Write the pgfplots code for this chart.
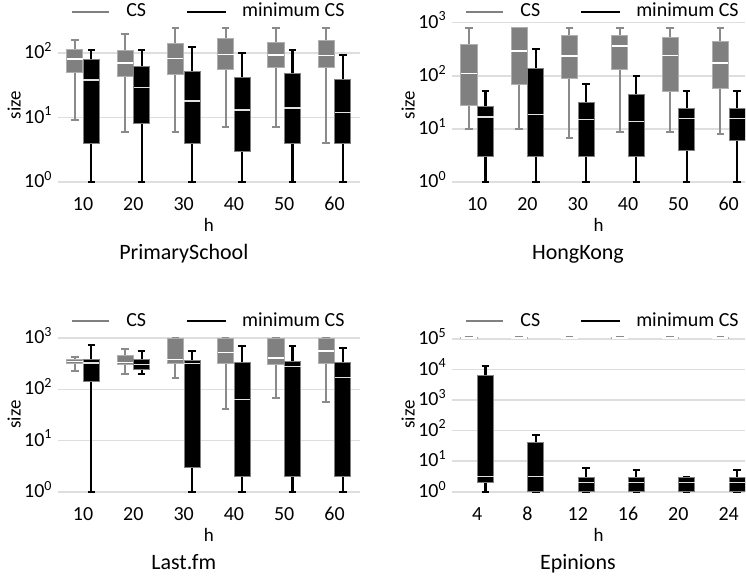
\documentclass[border=0pt]{standalone}
\usepackage{fontspec}
\setmainfont{Carlito}
\usepackage{pgfplots}
\usepackage{pgfplotstable}
\pgfplotsset{compat=1.18}

\definecolor{csgray}{RGB}{128,128,128}
\definecolor{wgray}{RGB}{138,138,138}
\definecolor{edgegray}{RGB}{175,175,175}
\definecolor{gridgray}{RGB}{222,222,222}
\definecolor{medgray}{RGB}{225,225,225}

% PrimarySchool
\pgfplotstableread{
lw lq med uq uw
9.2 50 81 115 157
6 44 70 109 193
6 47 82 141 245
7.1 55 94 169 245
7.1 59 93 148 245
4 59 91 156 245
}\PScs
\pgfplotstableread{
lw lq med uq uw
1 4 38 79 111
1 8 29 61 111
1 4 18 51 124
1 3 13 42 100
1 4 14 48 111
1 4 12 39 93
}\PSmin
% HongKong
\pgfplotstableread{
lw lq med uq uw
10 27.6 111 389 805
10 68 295 805 805
6.9 91 237 585 805
8.9 131 362 585 805
8.9 51.5 240 520 805
8 57 175 450 805
}\HKcs
\pgfplotstableread{
lw lq med uq uw
1 3 16.8 26 52
1 3 18.9 137 318
1 3 15 31 71
1 3 13.9 44 99
1 4 15.9 24 51
1 6 15.9 24 51
}\HKmin
% Last.fm
\pgfplotstableread{
lw lq med uq uw
231 321 351 384 433
202 302 336 460 620
169 326 384 1000 1000
42 316 518 1000 1000
69 307 408 1000 1000
56 316 558 1000 1000
}\LFcs
\pgfplotstableread{
lw lq med uq uw
1 141 326 378 720
202 245 307 378 567
1 3 316 373 550
1 2 63 331 709
1 2 281 346 709
1 2 169 331 629
}\LFmin
% Epinions
\pgfplotstableread{
lw lq med uq uw
103000 103000 108000 113000 113000
103000 103000 108000 113000 113000
103000 103000 108000 113000 113000
103000 103000 108000 113000 113000
103000 103000 108000 113000 113000
103000 103000 108000 113000 113000
}\EPcs
\pgfplotstableread{
lw lq med uq uw
1 2 3.1 6420 13300
1 1 3.1 42 74
1 1 2 3 6
1 1 2 3 5
1 1 2 3 3
1 1 2 3 5
}\EPmin

\pgfplotsset{
  mypanel/.style={
    scale only axis, height=85pt,
    xmin=-0.5,
    axis line style={draw=none}, tick style={draw=none},
    ymajorgrids, grid style={gridgray, line width=0.75pt},
    xtick={0,1,2,3,4,5},
    tick label style={font=\fontsize{10}{12}\selectfont},
    yticklabel style={anchor=base east, inner sep=0pt, xshift=-2.5pt, yshift=-2.8pt},
    xticklabel style={anchor=base, inner sep=0pt, yshift=-10.3pt},
    xlabel={h}, ylabel={size},
    xlabel style={font=\fontsize{9.5}{11}\selectfont, at={(axis description cs:0.5,0)}, anchor=base, yshift=-20.8pt, inner sep=0pt},
    ylabel style={font=\fontsize{9.5}{11}\selectfont, at={(axis description cs:0,0.5)}, anchor=base, yshift=18.7pt, inner sep=0pt},
  },
  cswhisk/.style={draw=wgray, line width=1pt},
  csbox/.style={fill=csgray, draw=edgegray, line width=0.4pt},
  csmed/.style={draw=white, line width=0.7pt},
  minwhisk/.style={draw=black, line width=1.1pt},
  minbox/.style={fill=black, draw=csgray, line width=0.4pt},
  minmed/.style={draw=medgray, line width=0.7pt},
}

% #1 table, #2 row, #3 draw position, #4 style prefix (cs / min)
\newcommand{\onebox}[4]{%
  \pgfplotstablegetelem{#2}{lw}\of#1\let\vlw\pgfplotsretval
  \pgfplotstablegetelem{#2}{lq}\of#1\let\vlq\pgfplotsretval
  \pgfplotstablegetelem{#2}{med}\of#1\let\vmed\pgfplotsretval
  \pgfplotstablegetelem{#2}{uq}\of#1\let\vuq\pgfplotsretval
  \pgfplotstablegetelem{#2}{uw}\of#1\let\vuw\pgfplotsretval
  \pgfmathsetmacro\bxp{#3}%
  \pgfmathsetmacro\bxa{#3-0.16}%
  \pgfmathsetmacro\bxb{#3+0.16}%
  \pgfmathsetmacro\bxc{#3-0.075}%
  \pgfmathsetmacro\bxd{#3+0.075}%
  \edef\tmpplot{%
    \noexpand\addplot[forget plot, #4whisk] coordinates {(\bxp,\vlw) (\bxp,\vlq)};
    \noexpand\addplot[forget plot, #4whisk] coordinates {(\bxp,\vuq) (\bxp,\vuw)};
    \noexpand\addplot[forget plot, #4whisk] coordinates {(\bxc,\vlw) (\bxd,\vlw)};
    \noexpand\addplot[forget plot, #4whisk] coordinates {(\bxc,\vuw) (\bxd,\vuw)};
    \noexpand\addplot[forget plot, #4box] coordinates {(\bxa,\vlq) (\bxb,\vlq) (\bxb,\vuq) (\bxa,\vuq)} -- cycle;
    \noexpand\addplot[forget plot, #4med] coordinates {(\bxa,\vmed) (\bxb,\vmed)};
  }%
  \tmpplot
}

\newcommand{\boxes}[2]{%
  \pgfplotsinvokeforeach{0,1,2,3,4,5}{%
    \onebox{#1}{##1}{##1-0.165}{cs}%
    \onebox{#2}{##1}{##1+0.165}{min}%
  }%
}

% legend and title for axis named #1, title #2
\newcommand{\legtitle}[2]{%
  \draw[csgray, line width=1pt] ([xshift=7pt, yshift=4.2pt]#1.north west) -- ++(18.5pt,0pt);
  \node[anchor=base west, inner sep=0pt, font=\fontsize{10}{12}\selectfont] at ([xshift=34pt, yshift=1.7pt]#1.north west) {CS};
  \draw[black, line width=1pt] ([xshift=64.5pt, yshift=4.2pt]#1.north west) -- ++(19.5pt,0pt);
  \node[anchor=base west, inner sep=0pt, font=\fontsize{10}{12}\selectfont] at ([xshift=92pt, yshift=1.7pt]#1.north west) {minimum CS};
  \node[anchor=base, inner sep=0pt, font=\fontsize{11}{13}\selectfont] at ([xshift=63pt, yshift=-35pt]#1.south west) {#2};
}

\begin{document}
\begin{tikzpicture}
\path (0pt,0pt) rectangle (373pt,288.5pt);

\begin{axis}[mypanel, ymode=log, width=151pt, xmax=5.5,
  name=ps, at={(29pt,193.5pt)}, anchor=south west,
  ymin=0.759, ymax=323.6,
  ytick={1,10,100}, yticklabels={10\textsuperscript{0},10\textsuperscript{1},10\textsuperscript{2}},
  xticklabels={10,20,30,40,50,60}]
\boxes{\PScs}{\PSmin}
\end{axis}

\begin{axis}[mypanel, ymode=log, width=146.75pt, xmax=5.33,
  name=hk, at={(226.25pt,193.5pt)}, anchor=south west,
  ymin=0.716, ymax=1122,
  ytick={1,10,100,1000}, yticklabels={10\textsuperscript{0},10\textsuperscript{1},10\textsuperscript{2},10\textsuperscript{3}},
  xticklabels={10,20,30,40,50,60}]
\boxes{\HKcs}{\HKmin}
\end{axis}

\begin{axis}[mypanel, ymode=log, width=151pt, xmax=5.5,
  name=lf, at={(29pt,38.5pt)}, anchor=south west,
  ymin=0.708, ymax=1455,
  ytick={1,10,100,1000}, yticklabels={10\textsuperscript{0},10\textsuperscript{1},10\textsuperscript{2},10\textsuperscript{3}},
  xticklabels={10,20,30,40,50,60}]
\boxes{\LFcs}{\LFmin}
\end{axis}

\begin{axis}[mypanel, ymode=log, width=146.75pt, xmax=5.33,
  name=ep, at={(226.25pt,38.5pt)}, anchor=south west,
  ymin=0.559, ymax=200000,
  ytick={1,10,100,1000,10000,100000}, yticklabels={10\textsuperscript{0},10\textsuperscript{1},10\textsuperscript{2},10\textsuperscript{3},10\textsuperscript{4},10\textsuperscript{5}},
  xticklabels={4,8,12,16,20,24}]
\boxes{\EPcs}{\EPmin}
\end{axis}

\legtitle{ps}{PrimarySchool}
\legtitle{hk}{HongKong}
\legtitle{lf}{Last.fm}
\legtitle{ep}{Epinions}
\end{tikzpicture}
\end{document}
